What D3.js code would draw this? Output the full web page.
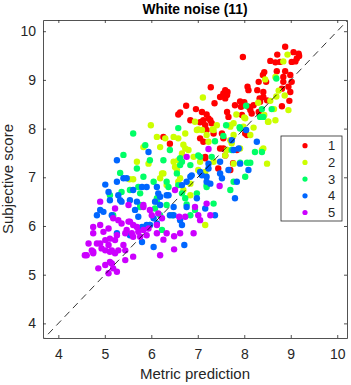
<!DOCTYPE html>
<html lang="en">
<head>
<meta charset="utf-8">
<title>White noise (11)</title>
<script src="https://cdn.jsdelivr.net/npm/d3@7"></script>
<style>
  body { margin: 0; background: #fff; }
  svg { font-family: "Liberation Sans", Arial, sans-serif; }
</style>
</head>
<body>
<div id="chart"></div>
<script>
// [metric prediction, subjective score] for each group
const group1 = [[8.88,9.68],[9.06,9.57],[9.17,9.54],[9.13,9.44],[9.18,9.49],[9.10,9.38],[9.02,9.37],[8.71,9.52],[8.56,9.39],[8.67,9.36],[8.77,9.37],[7.97,9.47],[8.88,9.18],[8.70,9.18],[8.43,9.16],[8.40,9.10],[8.84,9.06],[8.99,9.10],[9.02,8.96],[8.84,8.96],[8.95,8.86],[8.81,8.82],[8.99,8.75],[8.97,8.57],[8.81,8.46],[8.31,8.96],[8.47,8.96],[8.07,8.86],[8.09,8.79],[8.28,8.79],[8.41,8.75],[8.33,8.62],[8.41,8.65],[8.49,8.58],[8.34,8.55],[8.20,8.48],[8.09,8.45],[8.00,8.54],[7.91,8.56],[7.80,8.48],[7.93,8.45],[7.59,8.79],[7.64,8.75],[7.55,8.72],[7.48,8.65],[7.63,8.69],[7.59,8.62],[7.28,8.85],[7.36,8.52],[6.75,8.47],[6.62,8.33],[6.58,8.29],[6.96,8.40],[7.09,8.34],[7.19,8.29],[6.84,8.17],[7.05,8.13],[7.16,8.07],[7.27,8.17],[7.30,8.11],[7.66,8.24],[7.63,8.34],[8.13,8.38],[8.16,8.31],[8.31,8.34],[7.95,8.28],[7.09,8.14],[7.05,7.80],[7.12,7.73],[6.40,7.69],[7.16,7.39],[7.12,8.17],[7.23,8.21],[7.19,7.97],[7.34,7.90],[7.52,7.90],[7.55,7.80],[7.48,7.59],[7.55,7.59],[7.59,7.45],[7.16,7.42],[7.44,7.18],[7.70,7.15],[8.06,7.87],[6.26,7.83],[7.76,7.29],[8.02,7.90],[7.84,7.56]];
const group2 = [[8.93,9.52],[8.84,9.38],[8.67,9.06],[8.45,9.01],[8.74,8.78],[8.87,8.68],[8.69,8.66],[7.11,8.64],[8.56,8.57],[8.64,8.40],[8.51,8.14],[8.20,8.02],[8.00,8.23],[7.83,8.29],[7.70,8.07],[7.77,8.11],[7.41,8.07],[7.01,7.98],[7.32,7.98],[5.99,8.07],[6.12,7.83],[5.83,7.62],[5.69,7.32],[5.53,6.96],[5.61,6.96],[6.48,7.83],[6.66,7.49],[6.73,7.59],[6.91,7.42],[7.05,7.32],[7.09,7.97],[7.19,7.87],[7.77,7.87],[7.98,8.04],[8.41,7.59],[8.49,7.28],[7.77,7.28],[7.70,7.76],[7.63,7.56],[7.34,7.32],[7.12,7.05],[6.84,6.87],[6.62,6.98],[6.23,7.08],[6.19,6.98],[6.33,6.84],[6.55,7.15],[6.48,7.32],[6.73,7.90],[6.94,8.14],[5.94,7.28],[6.19,7.62],[6.30,7.80],[6.58,7.80],[6.69,7.67],[6.80,7.56],[6.58,7.35],[6.51,7.21],[6.26,7.08],[6.58,6.91],[6.98,7.97],[7.23,7.73],[7.01,7.15],[7.16,7.11],[6.69,6.74],[6.84,6.63],[7.34,7.97],[7.70,8.04],[8.02,8.21],[8.52,8.14],[8.67,8.17],[8.13,7.87],[7.73,7.70],[7.91,7.59],[8.38,7.56],[7.59,7.45],[7.16,6.02],[8.30,8.53],[8.95,8.38],[8.43,8.28]];
const group3 = [[5.61,7.90],[6.58,8.01],[5.40,7.46],[5.69,7.18],[6.26,7.35],[6.66,7.32],[7.05,7.42],[5.83,7.01],[6.05,6.91],[5.11,6.63],[5.36,6.70],[5.54,6.74],[5.76,6.67],[5.72,6.80],[6.37,6.80],[6.33,6.91],[6.58,6.84],[6.73,6.57],[6.66,6.67],[6.98,6.67],[7.19,6.84],[7.01,7.45],[6.62,7.39],[6.62,7.25],[6.55,7.08],[6.12,6.57],[6.33,6.43],[6.76,6.44],[5.76,6.43],[7.91,8.00],[7.55,7.85],[7.37,7.74],[7.73,7.56],[8.23,7.52],[8.38,7.52],[7.91,7.30],[8.06,7.30],[8.13,7.30],[8.02,7.01],[7.77,6.91],[7.70,6.74],[7.19,6.80],[7.34,6.46],[7.30,7.42],[8.69,9.03],[8.04,8.47],[8.38,8.40],[8.59,8.40],[8.34,8.24],[8.41,8.24],[7.90,8.03],[5.18,6.22],[5.76,6.39],[6.08,6.36],[6.12,6.50],[6.19,6.22],[6.45,6.22],[5.97,6.02],[6.23,5.92],[6.84,6.22],[5.87,7.66],[6.40,7.56],[6.84,7.25],[5.97,7.35],[7.61,8.07],[5.33,7.09],[6.94,6.33]];
const group4 = [[5.26,7.35],[5.94,7.52],[5.40,6.98],[5.01,6.85],[5.26,6.91],[5.29,6.63],[5.33,6.53],[5.61,6.74],[5.80,6.80],[6.12,6.80],[6.15,6.67],[6.19,6.60],[6.33,6.63],[6.08,6.50],[6.19,6.43],[6.48,6.39],[6.84,7.01],[6.76,6.91],[7.09,7.04],[7.19,7.01],[7.27,6.87],[5.54,6.53],[5.69,6.50],[8.27,7.73],[7.23,7.18],[7.48,7.08],[7.52,6.98],[7.66,7.15],[7.84,6.91],[8.09,7.15],[7.19,6.91],[7.80,6.57],[7.16,6.36],[7.77,7.56],[7.88,7.59],[7.73,7.76],[7.91,7.28],[6.98,6.57],[6.76,6.39],[6.48,6.22],[6.62,6.12],[6.05,6.16],[5.80,5.98],[5.65,6.33],[5.11,6.53],[4.90,6.33],[4.83,6.22],[5.08,6.70],[5.47,6.98],[5.90,6.80],[6.37,6.63],[6.66,6.84],[6.87,7.04],[7.05,7.11],[7.23,7.28],[7.48,7.32],[4.97,6.29],[5.15,6.22],[5.36,6.50],[5.72,6.19],[5.26,5.85],[5.80,5.67],[6.05,5.57],[5.97,6.02],[6.12,6.05],[5.54,5.81],[6.40,6.22],[6.66,6.02],[7.37,6.22],[5.90,6.02],[6.71,5.61],[8.04,7.97]];
const group5 = [[4.90,6.50],[5.22,6.36],[5.51,6.43],[5.83,6.39],[4.75,5.98],[4.90,6.02],[4.97,5.88],[4.75,5.85],[5.08,5.95],[5.29,6.12],[5.36,6.05],[5.54,6.09],[5.61,6.02],[5.47,5.92],[5.58,5.85],[5.69,5.98],[5.72,5.88],[5.83,5.92],[5.94,5.95],[5.90,5.81],[5.76,5.78],[5.61,5.78],[5.44,5.85],[5.26,5.81],[5.22,5.71],[5.11,5.74],[5.01,5.71],[4.90,5.64],[4.83,5.64],[4.65,5.64],[4.72,5.50],[4.93,5.54],[5.08,5.61],[5.15,5.50],[5.29,5.50],[5.40,5.61],[5.44,5.50],[5.22,5.44],[5.11,5.47],[5.01,5.50],[4.75,5.44],[4.61,5.40],[5.44,5.30],[5.61,5.37],[4.86,5.13],[5.01,5.20],[5.15,5.23],[5.18,5.13],[5.26,5.06],[5.08,5.03],[6.12,6.02],[6.12,5.85],[6.23,6.16],[6.15,6.26],[5.18,6.16],[5.51,6.09],[5.97,6.33],[4.57,5.40],[4.75,5.47],[6.19,5.40],[6.49,5.52],[6.01,6.22],[6.60,6.19],[6.73,6.19],[6.94,6.39],[7.01,6.22],[7.05,6.12],[7.27,6.22],[6.33,5.85],[6.26,5.72],[6.49,5.79],[6.62,5.85],[6.91,5.85],[6.76,7.42],[6.51,6.74],[7.19,6.46],[5.83,6.43],[7.23,7.58],[7.47,6.82],[5.11,5.26]];

const groups = [group1, group2, group3, group4, group5];
const groupNames = ["1", "2", "3", "4", "5"];
const colors = ["#ff0000", "#ccff00", "#00ff66", "#0066ff", "#cc00ff"];
const ticks = [4, 5, 6, 7, 8, 9, 10];
const xLimits = [3.67, 10.21];
const yLimits = [3.70, 10.23];

const width = 351, height = 385;
const margin = {top: 20, right: 4, bottom: 47, left: 43};
const axisColor = "#262626";

const svg = d3.select("#chart").append("svg")
  .attr("width", width)
  .attr("height", height);

const x = d3.scaleLinear().domain(xLimits).range([margin.left, width - margin.right]);
const y = d3.scaleLinear().domain(yLimits).range([height - margin.bottom, margin.top]);

svg.append("defs").append("clipPath").attr("id", "plot-area")
  .append("rect")
  .attr("x", margin.left).attr("y", margin.top)
  .attr("width", x.range()[1] - x.range()[0])
  .attr("height", y.range()[0] - y.range()[1]);

// points
groups.forEach((g, i) => {
  svg.append("g")
    .attr("clip-path", "url(#plot-area)")
    .selectAll("circle")
    .data(g)
    .enter()
    .append("circle")
      .attr("cx", d => x(d[0]))
      .attr("cy", d => y(d[1]))
      .attr("r", 3.2)
      .attr("fill", colors[i])
})

// identity line
svg.append("line")
  .attr("clip-path", "url(#plot-area)")
  .attr("x1", x(3.6)).attr("y1", y(3.6))
  .attr("x2", x(10.3)).attr("y2", y(10.3))
  .attr("stroke", "#000")
  .attr("stroke-width", 0.8)
  .attr("stroke-dasharray", "7,5")

// axes, ticks pointing inward, box on all sides
const tickLen = 3;
const fmt = d3.format("d");
const xAxis = d3.axisBottom(x).tickValues(ticks).tickFormat(fmt).tickSizeInner(-tickLen).tickSizeOuter(0).tickPadding(11);
const yAxis = d3.axisLeft(y).tickValues(ticks).tickFormat(fmt).tickSizeInner(-tickLen).tickSizeOuter(0).tickPadding(7);
const xTop = d3.axisTop(x).tickValues(ticks).tickSizeInner(-tickLen).tickSizeOuter(0).tickFormat("");
const yRight = d3.axisRight(y).tickValues(ticks).tickSizeInner(-tickLen).tickSizeOuter(0).tickFormat("");

function styleAxis(g) {
  g.selectAll("path, line").attr("stroke", axisColor).attr("stroke-width", 0.8)
  g.selectAll("text").attr("fill", axisColor).style("font-size", "14px")
}

svg.append("g").attr("transform", "translate(0," + y.range()[0] + ")").call(xAxis).call(styleAxis)
svg.append("g").attr("transform", "translate(" + margin.left + ",0)").call(yAxis).call(styleAxis)
svg.append("g").attr("transform", "translate(0," + margin.top + ")").call(xTop).call(styleAxis)
svg.append("g").attr("transform", "translate(" + x.range()[1] + ",0)").call(yRight).call(styleAxis)

// labels
const cx = (x.range()[0] + x.range()[1]) / 2;
svg.append("text")
  .attr("x", cx).attr("y", 14)
  .attr("text-anchor", "middle")
  .style("font-size", "13.8px").style("font-weight", "bold")
  .attr("fill", "#000")
  .text("White noise (11)")

svg.append("text")
  .attr("x", cx).attr("y", 379)
  .attr("text-anchor", "middle")
  .style("font-size", "15px")
  .attr("fill", axisColor)
  .text("Metric prediction")

svg.append("text")
  .attr("transform", "translate(13," + ((y.range()[0] + y.range()[1]) / 2) + ") rotate(-90)")
  .attr("text-anchor", "middle")
  .style("font-size", "15px")
  .attr("fill", axisColor)
  .text("Subjective score")

// legend
const legend = svg.append("g").attr("transform", "translate(281,136)")
legend.append("rect")
  .attr("width", 61).attr("height", 85)
  .attr("fill", "#fff")
  .attr("stroke", axisColor)
  .attr("stroke-width", 0.8)

groupNames.forEach((name, i) => {
  let row = legend.append("g").attr("transform", "translate(0," + (9.7 + i * 16.7) + ")")
  row.append("circle").attr("cx", 24).attr("cy", 0).attr("r", 2.6).attr("fill", colors[i])
  row.append("text").attr("x", 47).attr("y", 4.6)
    .style("font-size", "13px").attr("fill", axisColor)
    .text(name)
})
</script>
</body>
</html>
